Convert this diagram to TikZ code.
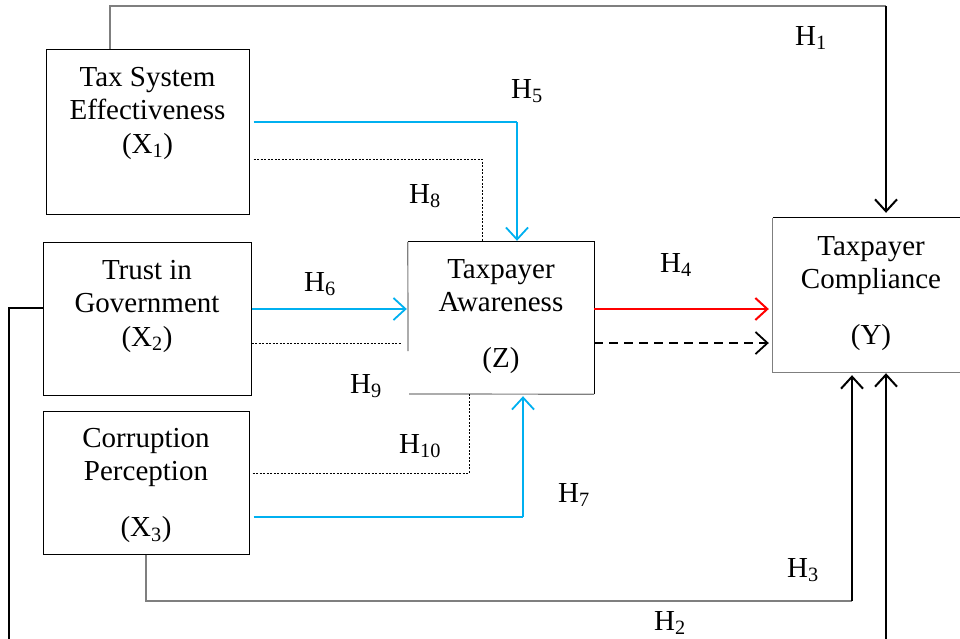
\documentclass[tikz,border=0pt]{standalone}
\usepackage{fontspec}
\setmainfont{Liberation Serif}
\usetikzlibrary{arrows.meta}
\definecolor{skyb}{HTML}{00B0F0}
\definecolor{midgray}{HTML}{7F7F7F}
\definecolor{hred}{HTML}{FF0000}
\begin{document}
\begin{tikzpicture}[x=1pt,y=-1pt,
  box/.style={rectangle, draw=black, line width=1pt, inner sep=0pt},
  openbox/.style={rectangle, inner sep=0pt},
  txt/.style={anchor=base, inner sep=0pt, font=\fontsize{29}{33.5}\selectfont},
  hyp/.style={anchor=base west, inner sep=0pt, font=\fontsize{29}{33.5}\selectfont},
  tipv/.style={-{Straight Barb[length=12pt,width=22pt]}},
  grayline/.style={draw=midgray, line width=1.3pt},
  blackline/.style={draw=black, line width=2pt},
  blueline/.style={draw=skyb, line width=1.8pt},
  bluethin/.style={draw=skyb, line width=1.4pt},
  dotline/.style={draw=black, line width=0.8pt, dash pattern=on 2pt off 1.5pt},
  dashline/.style={draw=black, line width=1.8pt, dash pattern=on 9pt off 6pt},
  redline/.style={draw=hred, line width=2pt}
]
\useasboundingbox (0,0) rectangle (960,638);
\clip (0,0) rectangle (960,638);

% boxes
\node[box, minimum width=203pt, minimum height=165pt] (x1) at (147.5,131.5) {};
\node[box, minimum width=208pt, minimum height=153pt] (x2) at (147,318.5) {};
\node[box, minimum width=206pt, minimum height=143pt] (x3) at (146,482.5) {};
\node[openbox, minimum width=186pt, minimum height=152pt] (z) at (501,318) {};
\node[openbox, minimum width=197pt, minimum height=154pt] (y) at (871.5,295) {};

% Z box edges (left edge interrupted)
\coordinate (zl) at (408,351);
\coordinate (zb) at (409,394);
\draw[black, line width=1pt] (z.north west) -- (z.north east) -- (z.south east);
\draw[grayline, line width=1.2pt] (z.north west) -- (zl);
\draw[grayline, line width=1.2pt] (zb) -- (z.south east);
% Y box edges
\draw[black, line width=1pt] (y.north west) -- (y.north east);
\draw[grayline, line width=1.2pt] (y.north west) -- (y.south west) -- (y.south east);

% box texts
\node[txt] (x1t) at (147.5,86) {\parbox[t]{200pt}{\centering Tax System\\Effectiveness\\(X\textsubscript{1})}};
\node[txt] (x2t) at (147,279) {\parbox[t]{200pt}{\centering Trust in\\Government\\(X\textsubscript{2})}};
\node[txt] (x3t) at (146,447) {\parbox[t]{200pt}{\centering Corruption\\Perception\\[22.5pt](X\textsubscript{3})}};
\node[txt] (zt) at (501,278) {\parbox[t]{180pt}{\centering Taxpayer\\Awareness\\[22.5pt](Z)}};
\node[txt] (yt) at (871,255) {\parbox[t]{190pt}{\centering Taxpayer\\Compliance\\[22.5pt](Y)}};

% coordinates for routing
\coordinate (h1a) at (110,6);
\coordinate (h1b) at (886,6);
\coordinate (h5c) at (517,122);
\coordinate (h8c) at (482,159);
\coordinate (h6c) at (253,309);
\coordinate (h9s) at (251,343);
\coordinate (h9e) at (402,343);
\coordinate (h10c) at (469,473);
\coordinate (h7c) at (523,517);
\coordinate (h4c) at (594,309);
\coordinate (dzc) at (594,343);
\coordinate (h3a) at (146,601);
\coordinate (h3b) at (852,601);
\coordinate (h2a) at (9,308);
\coordinate (h2b) at (9,660);
\coordinate (h2c) at (886,660);

% H1
\draw[grayline] (h1a |- x1.north) -- (h1a) -- (h1b);
\draw[blackline, tipv, shorten >=5pt] (h1b) -- (h1b |- y.north);
% H5
\draw[bluethin] ([xshift=4pt]x1.east |- h5c) -- (h5c);
\draw[blueline, tipv, shorten >=1pt] (h5c) -- (h5c |- z.north);
% H8
\draw[dotline] ([xshift=4pt]x1.east |- h8c) -- (h8c) -- (h8c |- z.north);
% H6
\draw[blueline, tipv, shorten >=1pt] (x2.east |- h6c) -- (z.west |- h6c);
% H9
\draw[dotline] (x2.east |- h9s) -- (h9e);
% H10
\draw[dotline] ([xshift=3pt]x3.east |- h10c) -- (h10c) -- (h10c |- z.south);
% H7
\draw[bluethin] ([xshift=4pt]x3.east |- h7c) -- (h7c);
\draw[blueline, tipv, shorten >=2pt] (h7c) -- (h7c |- z.south);
% H4
\draw[redline, tipv, shorten >=4pt] (h4c) -- (y.west |- h4c);
% mediated (dashed)
\draw[dashline, tipv, shorten >=4pt] (dzc) -- (y.west |- dzc);
% H3
\draw[grayline] (x3.south -| h3a) -- (h3a) -- (h3b);
\draw[blackline, tipv, shorten >=3pt] (h3b) -- (h3b |- y.south);
% H2
\draw[black, line width=1.3pt] (x2.west |- h2a) -- (h2a) -- (h2b) -- (h2c);
\draw[blackline, tipv, shorten >=1pt] (h2c) -- (h2c |- y.south);

% hypothesis labels
\node[hyp] (lh1) at (795,45) {H\textsubscript{1}};
\node[hyp] (lh5) at (511,98) {H\textsubscript{5}};
\node[hyp] (lh8) at (409,203) {H\textsubscript{8}};
\node[hyp] (lh6) at (304,291) {H\textsubscript{6}};
\node[hyp] (lh4) at (660,272) {H\textsubscript{4}};
\node[hyp] (lh9) at (350,393) {H\textsubscript{9}};
\node[hyp] (lh10) at (399,453) {H\textsubscript{10}};
\node[hyp] (lh7) at (558,502) {H\textsubscript{7}};
\node[hyp] (lh3) at (787,577) {H\textsubscript{3}};
\node[hyp] (lh2) at (654,630) {H\textsubscript{2}};
\end{tikzpicture}
\end{document}
